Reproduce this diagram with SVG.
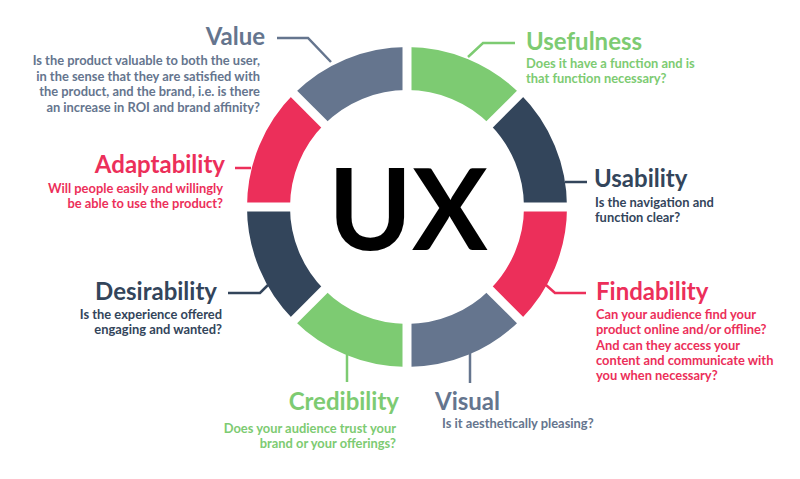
<svg xmlns="http://www.w3.org/2000/svg" width="800" height="479" viewBox="0 0 800 479">
<style>
.seg{fill:none;stroke-width:43}
.gap{stroke:#fff;stroke-width:9}
.t{font-family:Lato,"Open Sans","Liberation Sans",sans-serif;font-weight:700;font-size:24px}
.b{font-family:Lato,"Open Sans","Liberation Sans",sans-serif;font-weight:700;font-size:12.9px}
.e{text-anchor:end}
.green{fill:#7dcb72}.navy{fill:#33455b}.red{fill:#ec2f5a}.slate{fill:#65758e}
.lg{stroke:#7dcb72}.ln{stroke:#33455b}.lr{stroke:#ec2f5a}.ls{stroke:#65758e}
.ld{fill:none;stroke-width:2.5}
</style>
<rect width="800" height="479" fill="#fff"/>
<g id="ring">
<path class="seg lg" d="M407 68.5A138.5 138.5 0 0 1 504.93 109.07"/>
<path class="seg ln" d="M504.93 109.07A138.5 138.5 0 0 1 545.5 207"/>
<path class="seg lr" d="M545.5 207A138.5 138.5 0 0 1 504.93 304.93"/>
<path class="seg ls" d="M504.93 304.93A138.5 138.5 0 0 1 407 345.5"/>
<path class="seg lg" d="M407 345.5A138.5 138.5 0 0 1 309.07 304.93"/>
<path class="seg ln" d="M309.07 304.93A138.5 138.5 0 0 1 268.5 207"/>
<path class="seg lr" d="M268.5 207A138.5 138.5 0 0 1 309.07 109.07"/>
<path class="seg ls" d="M309.07 109.07A138.5 138.5 0 0 1 407 68.5"/>
<line class="gap" x1="407" y1="95" x2="407" y2="40"/>
<line class="gap" x1="407" y1="319" x2="407" y2="374"/>
<line class="gap" x1="295" y1="207" x2="240" y2="207"/>
<line class="gap" x1="519" y1="207" x2="574" y2="207"/>
<line class="gap" x1="486.2" y1="127.8" x2="525.1" y2="88.9"/>
<line class="gap" x1="327.8" y1="286.2" x2="288.9" y2="325.1"/>
<line class="gap" x1="327.8" y1="127.8" x2="288.9" y2="88.9"/>
<line class="gap" x1="486.2" y1="286.2" x2="525.1" y2="325.1"/>
<text x="408" y="250" text-anchor="middle" font-family="Lato,'Open Sans','Liberation Sans',sans-serif" font-weight="700" font-size="113" fill="#000">UX</text>
</g>
<g id="connectors">
<polyline class="ld ls" points="277,38 308,38 331,62"/>
<polyline class="ld lg" points="468,57 483,43 515,43"/>
<polyline class="ld ln" points="565,182 587,182"/>
<polyline class="ld lr" points="546,285 555,293 586,293"/>
<polyline class="ld ls" points="470,353 470,383"/>
<polyline class="ld lg" points="347,355 347,382"/>
<polyline class="ld ln" points="228,293 260,293 268,285"/>
<polyline class="ld lr" points="235,168 251,168"/>
</g>
<g id="value">
<text class="t e slate" x="265" y="45">Value</text>
<text class="b e slate" x="260"><tspan x="260" y="65">Is the product valuable to both the user,</tspan><tspan x="260" y="80.5">in the sense that they are satisfied with</tspan><tspan x="260" y="96">the product, and the brand, i.e. is there</tspan><tspan x="260" y="111.5">an increase in ROI and brand affinity?</tspan></text>
</g>
<g id="adaptability">
<text class="t e red" x="225" y="173">Adaptability</text>
<text class="b e red"><tspan x="223" y="193">Will people easily and willingly</tspan><tspan x="223" y="208">be able to use the product?</tspan></text>
</g>
<g id="usefulness">
<text class="t green" x="526" y="50">Usefulness</text>
<text class="b green"><tspan x="526" y="68">Does it have a function and is</tspan><tspan x="526" y="83">that function necessary?</tspan></text>
</g>
<g id="usability">
<text class="t navy" x="594" y="187">Usability</text>
<text class="b navy"><tspan x="595" y="207">Is the navigation and</tspan><tspan x="595" y="222">function clear?</tspan></text>
</g>
<g id="findability">
<text class="t red" x="596" y="300">Findability</text>
<text class="b red"><tspan x="596" y="319">Can your audience find your</tspan><tspan x="596" y="334">product online and/or offline?</tspan><tspan x="596" y="349.5">And can they access your</tspan><tspan x="596" y="365">content and communicate with</tspan><tspan x="596" y="380">you when necessary?</tspan></text>
</g>
<g id="visual">
<text class="t slate" x="435" y="410">Visual</text>
<text class="b slate" x="442" y="428">Is it aesthetically pleasing?</text>
</g>
<g id="credibility">
<text class="t e green" x="399" y="410">Credibility</text>
<text class="b e green"><tspan x="396" y="433">Does your audience trust your</tspan><tspan x="396" y="448">brand or your offerings?</tspan></text>
</g>
<g id="desirability">
<text class="t e navy" x="217" y="300">Desirability</text>
<text class="b e navy"><tspan x="222" y="319">Is the experience offered</tspan><tspan x="222" y="334">engaging and wanted?</tspan></text>
</g>
</svg>
